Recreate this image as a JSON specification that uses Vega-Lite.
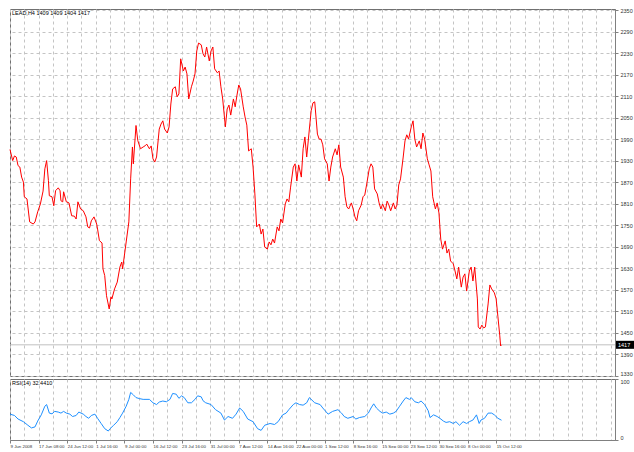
{
"$schema": "https://vega.github.io/schema/vega-lite/v6.json",
"padding": {"left": 7, "top": 7, "right": 0, "bottom": 0},
"background": "white",
"spacing": 3,
"bounds": "flush",
"config": {"view": {"stroke": "#707070", "strokeWidth": 1}, "font": "Liberation Sans", "axis": {"labelFont": "Liberation Sans", "title": null}},
"datasets": {
"price": [{"t":0,"p":1962},{"t":3,"p":1931},{"t":5,"p":1944},{"t":7,"p":1941},{"t":9,"p":1917},{"t":11,"p":1913},{"t":13,"p":1885},{"t":15,"p":1871},{"t":16,"p":1830},{"t":19,"p":1824},{"t":22,"p":1760},{"t":26,"p":1754},{"t":28,"p":1760},{"t":31,"p":1788},{"t":34,"p":1810},{"t":37,"p":1846},{"t":39,"p":1908},{"t":41,"p":1931},{"t":43,"p":1875},{"t":44,"p":1833},{"t":47,"p":1830},{"t":49,"p":1805},{"t":51,"p":1847},{"t":54,"p":1855},{"t":56,"p":1847},{"t":57,"p":1819},{"t":59,"p":1816},{"t":60,"p":1844},{"t":63,"p":1816},{"t":66,"p":1813},{"t":69,"p":1777},{"t":72,"p":1776},{"t":74,"p":1768},{"t":76,"p":1816},{"t":79,"p":1796},{"t":82,"p":1791},{"t":85,"p":1774},{"t":87,"p":1746},{"t":89,"p":1743},{"t":91,"p":1763},{"t":94,"p":1774},{"t":97,"p":1754},{"t":98,"p":1740},{"t":100,"p":1708},{"t":103,"p":1701},{"t":104,"p":1629},{"t":106,"p":1610},{"t":108,"p":1554},{"t":111,"p":1517},{"t":113,"p":1551},{"t":114,"p":1545},{"t":117,"p":1573},{"t":120,"p":1592},{"t":123,"p":1634},{"t":125,"p":1648},{"t":126,"p":1629},{"t":130,"p":1704},{"t":133,"p":1760},{"t":135,"p":1880},{"t":137,"p":1969},{"t":138,"p":1922},{"t":141,"p":2029},{"t":143,"p":1987},{"t":146,"p":1964},{"t":149,"p":1969},{"t":151,"p":1972},{"t":153,"p":1977},{"t":156,"p":1964},{"t":158,"p":1972},{"t":160,"p":1936},{"t":162,"p":1927},{"t":164,"p":1941},{"t":167,"p":2019},{"t":169,"p":2033},{"t":171,"p":2042},{"t":173,"p":2019},{"t":176,"p":2008},{"t":178,"p":2025},{"t":180,"p":2089},{"t":182,"p":2131},{"t":185,"p":2137},{"t":187,"p":2109},{"t":189,"p":2117},{"t":191,"p":2215},{"t":194,"p":2181},{"t":196,"p":2192},{"t":198,"p":2173},{"t":200,"p":2103},{"t":203,"p":2137},{"t":205,"p":2153},{"t":207,"p":2173},{"t":209,"p":2237},{"t":211,"p":2259},{"t":214,"p":2254},{"t":216,"p":2229},{"t":218,"p":2220},{"t":220,"p":2248},{"t":223,"p":2209},{"t":225,"p":2237},{"t":227,"p":2248},{"t":229,"p":2187},{"t":232,"p":2176},{"t":234,"p":2181},{"t":236,"p":2137},{"t":238,"p":2103},{"t":241,"p":2025},{"t":243,"p":2075},{"t":245,"p":2086},{"t":247,"p":2058},{"t":250,"p":2103},{"t":252,"p":2081},{"t":254,"p":2114},{"t":256,"p":2142},{"t":258,"p":2131},{"t":261,"p":2081},{"t":263,"p":2053},{"t":265,"p":2030},{"t":267,"p":1958},{"t":270,"p":1964},{"t":272,"p":1913},{"t":274,"p":1838},{"t":276,"p":1746},{"t":279,"p":1754},{"t":281,"p":1726},{"t":283,"p":1740},{"t":285,"p":1690},{"t":288,"p":1684},{"t":290,"p":1704},{"t":292,"p":1696},{"t":294,"p":1712},{"t":296,"p":1701},{"t":299,"p":1746},{"t":301,"p":1735},{"t":303,"p":1768},{"t":305,"p":1757},{"t":308,"p":1810},{"t":310,"p":1824},{"t":312,"p":1816},{"t":314,"p":1857},{"t":317,"p":1913},{"t":319,"p":1922},{"t":321,"p":1874},{"t":323,"p":1919},{"t":326,"p":1885},{"t":328,"p":1964},{"t":330,"p":1997},{"t":332,"p":1941},{"t":335,"p":2019},{"t":337,"p":2070},{"t":339,"p":2092},{"t":341,"p":2095},{"t":344,"p":2005},{"t":346,"p":1991},{"t":348,"p":1991},{"t":350,"p":1975},{"t":352,"p":1936},{"t":355,"p":1922},{"t":357,"p":1874},{"t":359,"p":1913},{"t":361,"p":1941},{"t":364,"p":1964},{"t":366,"p":1947},{"t":368,"p":1975},{"t":370,"p":1913},{"t":373,"p":1885},{"t":375,"p":1830},{"t":377,"p":1802},{"t":379,"p":1796},{"t":382,"p":1813},{"t":384,"p":1796},{"t":386,"p":1774},{"t":388,"p":1763},{"t":390,"p":1791},{"t":393,"p":1807},{"t":395,"p":1830},{"t":397,"p":1835},{"t":399,"p":1863},{"t":402,"p":1908},{"t":404,"p":1922},{"t":406,"p":1913},{"t":408,"p":1852},{"t":411,"p":1838},{"t":413,"p":1813},{"t":415,"p":1796},{"t":417,"p":1810},{"t":420,"p":1791},{"t":422,"p":1818},{"t":424,"p":1807},{"t":426,"p":1791},{"t":429,"p":1813},{"t":431,"p":1796},{"t":433,"p":1807},{"t":435,"p":1863},{"t":437,"p":1880},{"t":440,"p":1941},{"t":442,"p":1986},{"t":444,"p":2003},{"t":446,"p":1991},{"t":449,"p":2025},{"t":451,"p":2042},{"t":453,"p":1991},{"t":455,"p":1969},{"t":458,"p":1986},{"t":460,"p":1964},{"t":462,"p":2008},{"t":464,"p":1991},{"t":467,"p":1936},{"t":469,"p":1919},{"t":471,"p":1902},{"t":473,"p":1830},{"t":476,"p":1796},{"t":478,"p":1813},{"t":480,"p":1785},{"t":482,"p":1712},{"t":484,"p":1684},{"t":487,"p":1707},{"t":489,"p":1673},{"t":491,"p":1684},{"t":493,"p":1651},{"t":496,"p":1643},{"t":498,"p":1623},{"t":500,"p":1601},{"t":502,"p":1634},{"t":505,"p":1578},{"t":507,"p":1606},{"t":509,"p":1615},{"t":511,"p":1567},{"t":514,"p":1623},{"t":516,"p":1634},{"t":518,"p":1595},{"t":520,"p":1634},{"t":523,"p":1545},{"t":524,"p":1467},{"t":526,"p":1461},{"t":528,"p":1472},{"t":530,"p":1464},{"t":532,"p":1467},{"t":535,"p":1531},{"t":537,"p":1584},{"t":539,"p":1573},{"t":542,"p":1562},{"t":544,"p":1545},{"t":546,"p":1495},{"t":548,"p":1444},{"t":549,"p":1414},{"t":550,"p":1417}],
"rsi": [{"t":0,"r":42.4},{"t":5,"r":40.2},{"t":9,"r":34.4},{"t":15,"r":30.0},{"t":20,"r":24.2},{"t":24,"r":19.8},{"t":28,"r":21.5},{"t":31,"r":31.0},{"t":35,"r":41.2},{"t":39,"r":55.4},{"t":41,"r":58.1},{"t":44,"r":44.1},{"t":47,"r":42.9},{"t":50,"r":46.9},{"t":54,"r":45.8},{"t":57,"r":44.1},{"t":60,"r":46.9},{"t":63,"r":44.1},{"t":67,"r":42.4},{"t":70,"r":38.5},{"t":74,"r":40.2},{"t":77,"r":45.8},{"t":82,"r":42.4},{"t":85,"r":38.5},{"t":88,"r":35.6},{"t":91,"r":40.2},{"t":95,"r":42.4},{"t":98,"r":35.6},{"t":102,"r":27.1},{"t":106,"r":18.6},{"t":110,"r":14.7},{"t":112,"r":18.6},{"t":116,"r":24.2},{"t":120,"r":30.0},{"t":123,"r":36.8},{"t":126,"r":44.1},{"t":130,"r":55.4},{"t":133,"r":66.6},{"t":135,"r":78.0},{"t":138,"r":74.1},{"t":141,"r":69.5},{"t":145,"r":67.8},{"t":149,"r":66.6},{"t":156,"r":66.6},{"t":160,"r":61.0},{"t":164,"r":58.1},{"t":167,"r":62.2},{"t":171,"r":63.9},{"t":175,"r":62.7},{"t":179,"r":66.6},{"t":182,"r":76.3},{"t":186,"r":75.1},{"t":189,"r":68.3},{"t":192,"r":72.4},{"t":195,"r":69.5},{"t":199,"r":61.0},{"t":203,"r":61.0},{"t":207,"r":66.6},{"t":210,"r":72.4},{"t":214,"r":70.7},{"t":216,"r":64.4},{"t":219,"r":61.0},{"t":225,"r":58.1},{"t":230,"r":49.7},{"t":236,"r":44.1},{"t":240,"r":32.7},{"t":244,"r":38.5},{"t":249,"r":35.6},{"t":253,"r":42.4},{"t":257,"r":52.5},{"t":261,"r":46.9},{"t":266,"r":34.4},{"t":272,"r":30.0},{"t":277,"r":18.6},{"t":281,"r":15.8},{"t":285,"r":24.2},{"t":291,"r":27.1},{"t":296,"r":25.4},{"t":300,"r":30.0},{"t":305,"r":41.2},{"t":309,"r":44.1},{"t":312,"r":49.7},{"t":317,"r":58.1},{"t":320,"r":61.0},{"t":324,"r":58.1},{"t":328,"r":57.1},{"t":332,"r":61.0},{"t":335,"r":69.5},{"t":341,"r":61.0},{"t":347,"r":58.1},{"t":350,"r":52.5},{"t":356,"r":42.4},{"t":361,"r":46.9},{"t":367,"r":49.7},{"t":371,"r":44.1},{"t":374,"r":38.5},{"t":378,"r":35.6},{"t":384,"r":38.5},{"t":387,"r":34.4},{"t":391,"r":36.8},{"t":397,"r":38.5},{"t":401,"r":44.1},{"t":404,"r":52.5},{"t":407,"r":59.3},{"t":410,"r":52.5},{"t":414,"r":46.9},{"t":417,"r":44.1},{"t":421,"r":45.8},{"t":425,"r":42.4},{"t":429,"r":44.1},{"t":432,"r":46.9},{"t":436,"r":55.4},{"t":440,"r":63.9},{"t":443,"r":69.5},{"t":447,"r":66.6},{"t":449,"r":69.5},{"t":453,"r":62.7},{"t":457,"r":61.0},{"t":460,"r":63.9},{"t":464,"r":58.1},{"t":468,"r":48.0},{"t":470,"r":36.8},{"t":474,"r":41.2},{"t":478,"r":38.5},{"t":481,"r":35.6},{"t":485,"r":31.0},{"t":488,"r":28.8},{"t":492,"r":30.0},{"t":496,"r":27.1},{"t":499,"r":30.0},{"t":503,"r":24.2},{"t":507,"r":30.0},{"t":511,"r":27.1},{"t":514,"r":30.0},{"t":518,"r":32.7},{"t":522,"r":41.2},{"t":525,"r":27.1},{"t":527,"r":32.7},{"t":531,"r":35.6},{"t":535,"r":44.1},{"t":539,"r":44.1},{"t":542,"r":41.2},{"t":546,"r":35.6},{"t":550,"r":32.44}],
"last": [{"price": 1417, "label": "1417"}],
"title1": [{"label": "LEAD,H4  1409 1409 1404 1417"}],
"title2": [{"label": "RSI(14) 32.4410"}]
},
"vconcat": [
{
"width": 605, "height": 367,
"layer": [
{"data": {"name": "last"}, "mark": {"type": "rule", "color": "#c0c0c0", "strokeWidth": 1},
 "encoding": {"y": {"field": "price", "type": "quantitative", "scale": {"domain": [1330, 2354], "nice": false, "zero": false},
   "axis": {"orient": "right", "values": [1330,1390,1450,1510,1570,1630,1690,1750,1810,1870,1930,1990,2050,2110,2170,2230,2290,2350], "tickCount": 200, "format": "d", "labelOverlap": false, "labelBaseline": {"condition": {"test": "datum.value === 1330", "value": "bottom"}, "value": "middle"}, "grid": true, "gridColor": "#c4c4c4", "gridDash": [3,3], "tickSize": 3, "tickColor": "#808080", "domainColor": "#808080", "labelFontSize": 5.5, "labelColor": "#333333", "labelPadding": 2}}}},
{"data": {"name": "price"}, "mark": {"type": "line", "color": "#ff0000", "strokeWidth": 1, "interpolate": "linear"},
 "encoding": {
  "x": {"field": "t", "type": "quantitative", "scale": {"domain": [0, 677], "nice": false, "zero": false},
    "axis": {"values": [0,16,32,48,64,80,96,112,128,144,160,176,192,208,224,240,256,272,288,304,320,336,352,368,384,400,416,432,448,464,480,496,512,528,544,560,576,592,608,624,640,656,672], "tickCount": 200, "labels": false, "ticks": false, "domain": false, "grid": true, "gridColor": "#c4c4c4", "gridDash": [3,3]}},
  "y": {"field": "p", "type": "quantitative"}}},
{"data": {"name": "last"}, "mark": {"type": "point", "shape": "M0.2,-0.8L4,-0.8L4,0.8L0.2,0.8Z", "size": 100, "filled": true, "color": "#000000", "opacity": 1, "clip": false},
 "encoding": {"x": {"datum": 677, "type": "quantitative"}, "y": {"field": "price", "type": "quantitative"}}},
{"data": {"name": "last"}, "mark": {"type": "text", "align": "left", "baseline": "middle", "dx": 3, "fontSize": 5.5, "color": "#ffffff", "clip": false},
 "encoding": {"x": {"datum": 677, "type": "quantitative"}, "y": {"field": "price", "type": "quantitative"}, "text": {"field": "label"}}},
{"data": {"name": "title1"}, "mark": {"type": "text", "align": "left", "baseline": "top", "dx": 2, "dy": 2, "fontSize": 5.5, "color": "#000000"},
 "encoding": {"x": {"datum": 0, "type": "quantitative"}, "y": {"datum": 2354, "type": "quantitative"}, "text": {"field": "label"}}}
]
},
{
"width": 605, "height": 61,
"layer": [
{"data": {"name": "rsi"}, "mark": {"type": "line", "color": "#1e90ff", "strokeWidth": 1},
 "encoding": {
  "x": {"field": "t", "type": "quantitative", "scale": {"domain": [0, 677], "nice": false, "zero": false},
    "axis": {"values": [0,16,32,48,64,80,96,112,128,144,160,176,192,208,224,240,256,272,288,304,320,336,352,368,384,400,416,432,448,464,480,496,512,528,544,560,576,592,608,624,640,656,672], "tickCount": 200, "grid": true, "gridColor": "#c4c4c4", "gridDash": [3,3], "domainColor": "#808080", "tickColor": "#808080", "tickSize": 3, "tickOpacity": {"condition": {"test": "datum.value % 32 === 0 && datum.value <= 544", "value": 1}, "value": 0},
     "labelExpr": "(datum.value % 32 === 0 && datum.value <= 544) ? ['9 Jun 2008','17 Jun 08:00','24 Jun 12:00','1 Jul 16:00','9 Jul 00:00','16 Jul 12:00','23 Jul 16:00','31 Jul 00:00','7 Aug 12:00','14 Aug 16:00','22 Aug 00:00','1 Sep 12:00','8 Sep 16:00','15 Sep 00:00','23 Sep 12:00','30 Sep 16:00','8 Oct 00:00','15 Oct 12:00'][datum.value / 32] : ''",
     "labelAlign": "left", "labelBaseline": "top", "labelPadding": 1, "labelFontSize": 4.4, "labelColor": "#333333", "labelOverlap": false, "labelFlush": false}},
  "y": {"field": "r", "type": "quantitative", "scale": {"domain": [0, 100], "nice": false},
    "axis": {"orient": "right", "values": [0, 100], "labelOverlap": false, "labelBaseline": {"condition": {"test": "datum.value === 100", "value": "top"}, "value": "bottom"}, "grid": false, "tickSize": 3, "tickColor": "#808080", "domainColor": "#808080", "labelFontSize": 5.5, "labelColor": "#333333", "labelPadding": 2}}}},
{"data": {"name": "title2"}, "mark": {"type": "text", "align": "left", "baseline": "top", "dx": 2, "dy": 2, "fontSize": 5.5, "color": "#000000"},
 "encoding": {"x": {"datum": 0, "type": "quantitative"}, "y": {"datum": 100, "type": "quantitative"}, "text": {"field": "label"}}}
]
}
]
}
